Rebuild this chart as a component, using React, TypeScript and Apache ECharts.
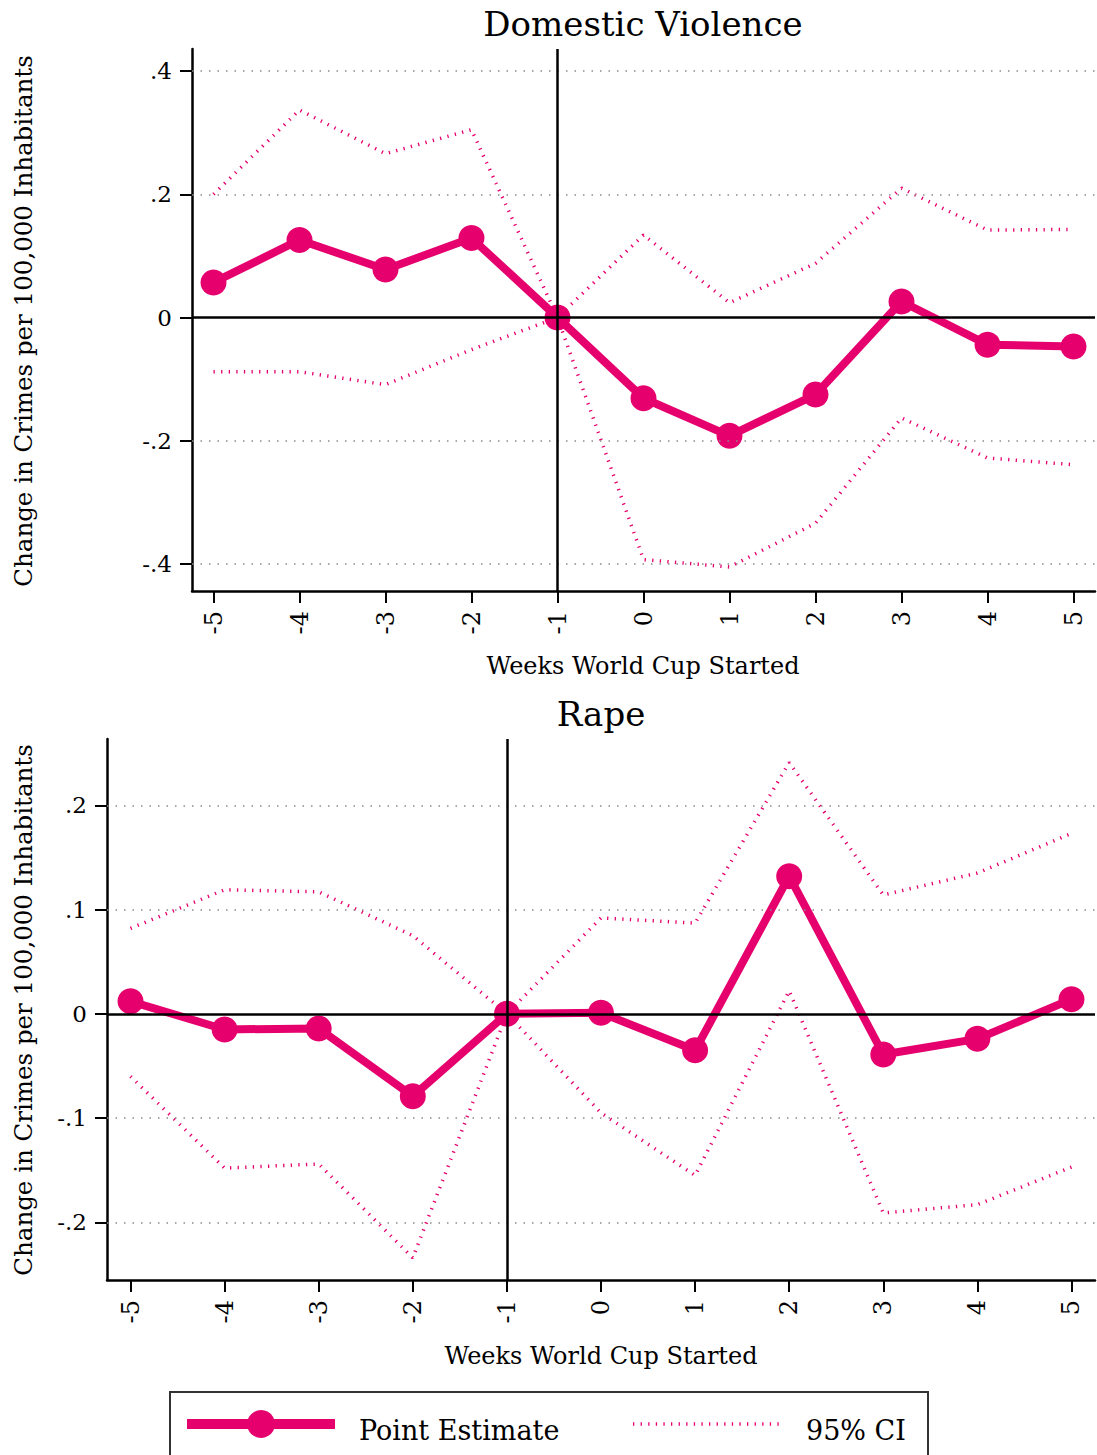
import React, { useEffect, useRef } from "react";
import * as echarts from "echarts";

const weeks = [-5, -4, -3, -2, -1, 0, 1, 2, 3, 4, 5];

const dvPoint = [0.057, 0.126, 0.078, 0.129, 0, -0.131, -0.192, -0.125, 0.026, -0.044, -0.047];
const dvUpper = [0.2, 0.337, 0.266, 0.305, 0, 0.134, 0.024, 0.088, 0.21, 0.142, 0.143];
const dvLower = [-0.088, -0.088, -0.109, -0.052, 0, -0.393, -0.405, -0.334, -0.163, -0.228, -0.239];

const rapePoint = [0.012, -0.015, -0.014, -0.079, 0, 0.001, -0.035, 0.132, -0.039, -0.024, 0.014];
const rapeUpper = [0.082, 0.119, 0.117, 0.075, 0, 0.092, 0.087, 0.241, 0.114, 0.135, 0.173];
const rapeLower = [-0.06, -0.148, -0.144, -0.234, 0, -0.095, -0.155, 0.022, -0.191, -0.183, -0.147];

const dvTicks = [-0.4, -0.2, 0, 0.2, 0.4];
const rapeTicks = [-0.2, -0.1, 0, 0.1, 0.2];

const titles = ["Domestic Violence", "Rape"];
const xTitle = "Weeks World Cup Started";
const yTitle = "Change in Crimes per 100,000 Inhabitants";
const legendLabels = ["Point Estimate", "95% CI"];

const PINK = "#E6006E";
const FONT = "DejaVu Serif";

const fmtY = (v: number) => {
  if (Math.abs(v) < 1e-9) return "0";
  return v.toFixed(1).replace("0.", ".");
};

const pairs = (ys: number[]) => weeks.map((w, i) => [w, ys[i]]);

function panelSeries(idx: number, point: number[], up: number[], lo: number[], ticks: number[]) {
  const grid = ticks.filter((t) => Math.abs(t) > 1e-9);
  return [
    {
      type: "line",
      xAxisIndex: idx,
      yAxisIndex: idx,
      data: pairs(point),
      symbol: "none",
      lineStyle: { opacity: 0 },
      silent: true,
      z: 1,
      markLine: {
        silent: true,
        symbol: ["none", "none"],
        label: { show: false },
        lineStyle: { color: "#8a8a8a", width: 1.5, type: [1.5, 7] },
        data: grid.map((g) => ({ yAxis: g })),
      },
    },
    {
      type: "line",
      xAxisIndex: idx,
      yAxisIndex: idx,
      data: pairs(point),
      symbol: "none",
      lineStyle: { opacity: 0 },
      silent: true,
      z: 2,
      markLine: {
        silent: true,
        symbol: ["none", "none"],
        label: { show: false },
        lineStyle: { color: "#000", width: 2.5, type: "solid" },
        data: [{ yAxis: 0 }, { xAxis: -1 }],
      },
    },
    {
      type: "line",
      xAxisIndex: idx,
      yAxisIndex: idx,
      data: pairs(up),
      symbol: "none",
      lineStyle: { color: PINK, width: 3.5, type: [1.3, 6.3] },
      z: 3,
    },
    {
      type: "line",
      xAxisIndex: idx,
      yAxisIndex: idx,
      data: pairs(lo),
      symbol: "none",
      lineStyle: { color: PINK, width: 3.5, type: [1.3, 6.3] },
      z: 3,
    },
    {
      type: "line",
      xAxisIndex: idx,
      yAxisIndex: idx,
      data: pairs(point),
      symbol: "circle",
      symbolSize: 26,
      itemStyle: { color: PINK },
      lineStyle: { color: PINK, width: 8 },
      z: 4,
    },
  ];
}

function xAxisCfg(idx: number) {
  return {
    type: "value",
    gridIndex: idx,
    min: -5.25,
    max: 5.25,
    axisLine: { show: true, onZero: false, lineStyle: { color: "#000", width: 2.5 } },
    axisTick: { show: true, length: 12, customValues: weeks, lineStyle: { color: "#000", width: 2 } },
    axisLabel: {
      customValues: weeks,
      rotate: 90,
      margin: 20,
      fontSize: 24,
      fontFamily: FONT,
      color: "#000",
      formatter: (v: number) => String(Math.round(v)),
    },
    splitLine: { show: false },
  };
}

function yAxisCfg(idx: number, min: number, max: number, ticks: number[]) {
  return {
    type: "value",
    gridIndex: idx,
    min,
    max,
    axisLine: { show: true, onZero: false, lineStyle: { color: "#000", width: 2.5 } },
    axisTick: { show: true, length: 12, customValues: ticks, lineStyle: { color: "#000", width: 2 } },
    axisLabel: {
      customValues: ticks,
      margin: 20,
      fontSize: 23,
      fontFamily: FONT,
      color: "#000",
      formatter: fmtY,
    },
    splitLine: { show: false },
  };
}

const textEl = (text: string, x: number, y: number, size: number, align = "center", rot = 0) => ({
  type: "text",
  x,
  y,
  rotation: rot,
  style: {
    text,
    font: `${size}px "${FONT}"`,
    fill: "#000",
    textAlign: align,
    textVerticalAlign: "middle",
  },
});

export default function App() {
  const ref = useRef<HTMLDivElement>(null);
  useEffect(() => {
    if (!ref.current) return;
    const chart = echarts.init(ref.current, undefined, { renderer: "svg" });
    const option = {
      animation: false,
      backgroundColor: "#fff",
      grid: [
        { left: 192, top: 49, width: 903, height: 542 },
        { left: 107, top: 739, width: 988, height: 541 },
      ],
      xAxis: [xAxisCfg(0), xAxisCfg(1)],
      yAxis: [yAxisCfg(0, -0.444, 0.436, dvTicks), yAxisCfg(1, -0.2553, 0.2636, rapeTicks)],
      series: [
        ...panelSeries(0, dvPoint, dvUpper, dvLower, dvTicks),
        ...panelSeries(1, rapePoint, rapeUpper, rapeLower, rapeTicks),
      ],
      graphic: [
        textEl(titles[0], 643, 24, 34),
        textEl(titles[1], 601, 714, 34),
        textEl(xTitle, 643, 666, 24),
        textEl(xTitle, 601, 1356, 24),
        textEl(yTitle, 23, 321, 24.5, "center", Math.PI / 2),
        textEl(yTitle, 23, 1010, 24.5, "center", Math.PI / 2),
        {
          type: "rect",
          shape: { x: 170, y: 1392, width: 758, height: 90 },
          style: { fill: "none", stroke: "#333", lineWidth: 2 },
        },
        {
          type: "line",
          shape: { x1: 187, y1: 1424, x2: 335, y2: 1424 },
          style: { stroke: PINK, lineWidth: 10 },
        },
        {
          type: "circle",
          shape: { cx: 261, cy: 1424, r: 14 },
          style: { fill: PINK },
        },
        textEl(legendLabels[0], 359, 1430, 27, "left"),
        {
          type: "line",
          shape: { x1: 633, y1: 1424, x2: 782, y2: 1424 },
          style: { stroke: PINK, lineWidth: 3.5, lineDash: [1.3, 6.3] },
        },
        textEl(legendLabels[1], 806, 1430, 27, "left"),
      ],
    };
    chart.setOption(option as any);
    return () => chart.dispose();
  }, []);
  return (
    <div
      ref={ref}
      style={{ position: "absolute", left: 0, top: 0, width: 1097, height: 1455 }}
    />
  );
}
